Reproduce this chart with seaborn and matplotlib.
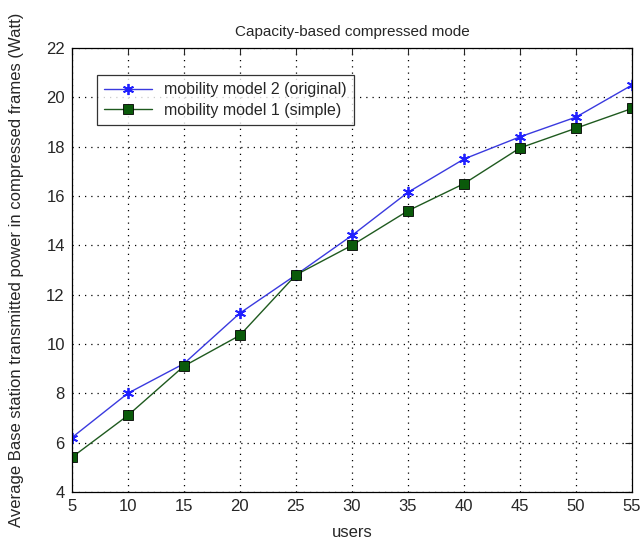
import numpy as np
import pandas as pd
import matplotlib
matplotlib.use("Agg")
import matplotlib.pyplot as plt
import seaborn as sns

# valores
users = [5, 10, 15, 20, 25, 30, 35, 40, 45, 50, 55]
model2_original = [6.2, 8.0, 9.2, 11.25, 12.8, 14.4, 16.15, 17.5, 18.4, 19.2, 20.5]
model1_simple = [5.4, 7.1, 9.1, 10.35, 12.8, 14.0, 15.4, 16.5, 17.95, 18.75, 19.55]
series_names = ["mobility model 2 (original)", "mobility model 1 (simple)"]
x_ticks = list(range(5, 56, 5))
y_ticks = list(range(4, 23, 2))

sns.set_style("white")
plt.rcParams['font.family'] = ['Liberation Sans', 'DejaVu Sans']

df = pd.DataFrame({
    "users": users * 2,
    "power": model2_original + model1_simple,
    "model": [series_names[0]] * len(users) + [series_names[1]] * len(users),
})

fig = plt.figure(figsize=(6.41, 5.40), dpi=100)
ax = fig.add_axes([0.112, 0.089, 0.874, 0.822])

sns.lineplot(data=df[df.model == series_names[0]], x="users", y="power", ax=ax,
             color="#3a3adf", lw=1.0, marker=(6, 2, 0), markersize=8,
             markeredgecolor="#2020ff", markerfacecolor="#2020ff", markeredgewidth=1.3,
             label=series_names[0])
sns.lineplot(data=df[df.model == series_names[1]], x="users", y="power", ax=ax,
             color="#1f5a1f", lw=1.0, marker="s", markersize=7.5,
             markeredgecolor="black", markerfacecolor="#0a5a0a", markeredgewidth=0.6,
             label=series_names[1])

ax.set_xlim(5, 55)
ax.set_ylim(4, 22)
ax.set_xticks(x_ticks)
ax.set_yticks(y_ticks)
ax.tick_params(direction="in", top=True, right=True, labelsize=12, length=5, pad=5)
ax.grid(True, linestyle=(0, (1, 4)), color="black", lw=0.9)
for s in ax.spines.values():
    s.set_color("black")
    s.set_linewidth(0.9)

ax.set_title("Capacity-based compressed mode", fontsize=11, pad=9)
ax.set_xlabel("users", fontsize=12, labelpad=8)
ax.set_ylabel("Average Base station transmitted power in compressed frames (Watt)",
              fontsize=12, labelpad=16)

leg = ax.legend(loc="upper left", bbox_to_anchor=(0.03, 0.957), fontsize=11.5,
                frameon=True, fancybox=False, borderpad=0.45, handlelength=3,
                labelspacing=0.35)
leg.get_frame().set_edgecolor("black")
leg.get_frame().set_linewidth(0.9)

plt.savefig("out.png", dpi=100)
plt.close()
